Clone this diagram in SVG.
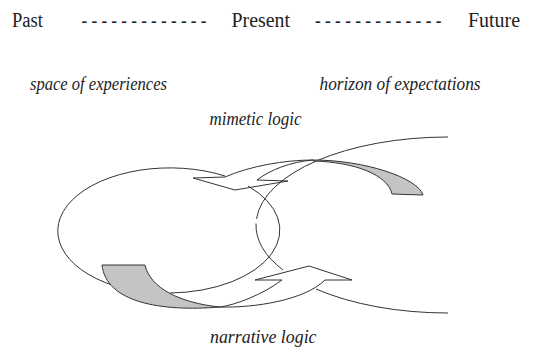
<svg xmlns="http://www.w3.org/2000/svg" width="538" height="348" viewBox="0 0 538 348">
<style>
.up{font-family:"Liberation Serif","Times New Roman",serif;font-size:20px;fill:#222}
.it{font-family:"Liberation Serif","Times New Roman",serif;font-size:19px;font-style:italic;fill:#222}
.ln{fill:none;stroke:#333;stroke-width:1}
.sh{fill:#c4c4c4;stroke:#333;stroke-width:1}
</style>
<rect width="538" height="348" fill="#fff"/>
<g id="timeline">
<text class="up" x="12" y="26.5" textLength="31" lengthAdjust="spacingAndGlyphs">Past</text>
<text class="up" x="81.5" y="26.5" textLength="125" lengthAdjust="spacingAndGlyphs">- - - - - - - - - - - - -</text>
<text class="up" x="231.5" y="26.5" textLength="58.5" lengthAdjust="spacingAndGlyphs">Present</text>
<text class="up" x="315" y="26.5" textLength="126.5" lengthAdjust="spacingAndGlyphs">- - - - - - - - - - - - -</text>
<text class="up" x="468" y="26.5" textLength="52" lengthAdjust="spacingAndGlyphs">Future</text>
</g>
<g id="labels">
<text class="it" x="30" y="90" textLength="137" lengthAdjust="spacingAndGlyphs">space of experiences</text>
<text class="it" x="319.5" y="90" textLength="161" lengthAdjust="spacingAndGlyphs">horizon of expectations</text>
<text class="it" x="209.5" y="125" textLength="92" lengthAdjust="spacingAndGlyphs">mimetic logic</text>
<text class="it" x="210" y="343" textLength="106.5" lengthAdjust="spacingAndGlyphs">narrative logic</text>
</g>
<g id="connectors">
<g id="left-loop">
<path class="ln" d="M225,176 A112,63 0 1 0 115,286"/>
<path class="ln" d="M248,186 A112,63 0 0 1 170,293"/>
</g>
<g id="right-loop">
<path class="ln" d="M448,137 A192,88 0 0 0 256.5,218.9"/>
<path class="ln" d="M256,223.5 A192,88 0 0 0 283,270"/>
<path class="ln" d="M316,289 A192,88 0 0 0 448,313"/>
</g>
<g id="mimetic-arrow">
<path class="sh" d="M313,160 C365,160 418,178 423,195 L392,194 C388,175 355,162 313,161 Z"/>
<path class="ln" d="M313,160 C285,160 250,166 225,177 L193,178 L235,190 L288,181 L257,180 C270,170 290,162 313,160"/>
</g>
<g id="narrative-arrow">
<path class="sh" d="M102,265 L145,265 C150,288 180,303 220,307 C160,312 106,302 102,265 Z"/>
<path class="ln" d="M220,307 C235,305 262,295 282,280 L255,280 L309,266 L352,280 L325,280 C305,300 255,308 220,307"/>
</g>
</g>
</svg>
